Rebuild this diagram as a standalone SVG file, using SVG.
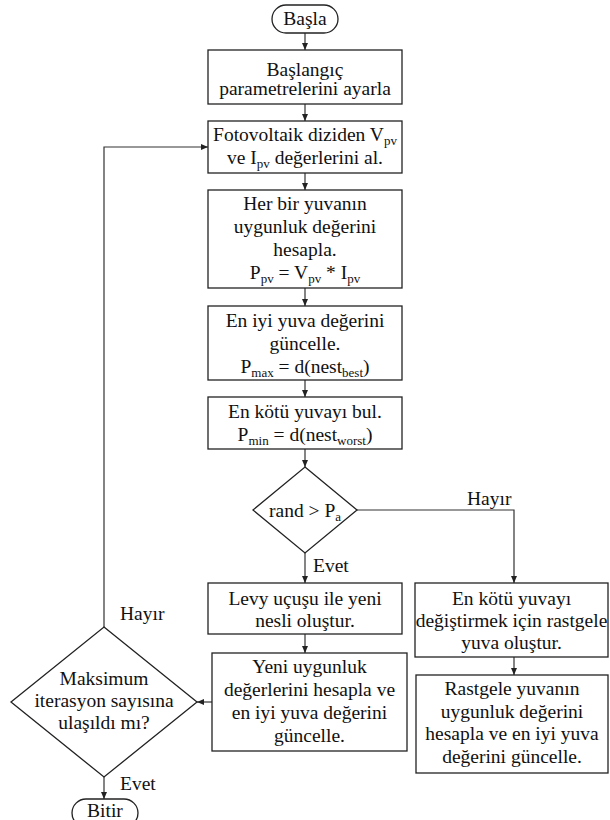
<svg xmlns="http://www.w3.org/2000/svg" width="610" height="820" viewBox="0 0 610 820">
<style>
text{font-family:"Liberation Serif","Times New Roman",serif}
.box{fill:#fff;stroke:#222;stroke-width:1.3}
.t{font-size:19.5px;fill:#111;text-anchor:middle}
.l{font-size:19.5px;fill:#111}
.sub{font-size:13px}
.c{fill:none;stroke:#333;stroke-width:1.2}
</style>
<defs>
<marker id="ah" markerUnits="userSpaceOnUse" markerWidth="8" markerHeight="6" refX="7" refY="3" orient="auto">
<path d="M0,0 L7,3 L0,6 z" fill="#222"/>
</marker>
</defs>
<rect width="610" height="820" fill="#fff"/>
<g id="connectors">
<line class="c" x1="305" y1="33" x2="305" y2="50" marker-end="url(#ah)"/>
<line class="c" x1="305" y1="104" x2="305" y2="121" marker-end="url(#ah)"/>
<line class="c" x1="305" y1="173" x2="305" y2="190" marker-end="url(#ah)"/>
<line class="c" x1="305" y1="288" x2="305" y2="306" marker-end="url(#ah)"/>
<line class="c" x1="305" y1="380" x2="305" y2="397" marker-end="url(#ah)"/>
<line class="c" x1="305" y1="449" x2="305" y2="467" marker-end="url(#ah)"/>
<line class="c" x1="305" y1="553" x2="305" y2="583" marker-end="url(#ah)"/>
<polyline class="c" points="357,510 514,510 514,583" marker-end="url(#ah)"/>
<line class="c" x1="305" y1="634" x2="305" y2="653" marker-end="url(#ah)"/>
<line class="c" x1="514" y1="657" x2="514" y2="675" marker-end="url(#ah)"/>
<line class="c" x1="212" y1="702" x2="197" y2="702" marker-end="url(#ah)"/>
<polyline class="c" points="104,627 104,147 208,147" marker-end="url(#ah)"/>
<line class="c" x1="104" y1="777" x2="104" y2="799" marker-end="url(#ah)"/>
<text class="l" x="467" y="505">Hayır</text>
<text class="l" x="313" y="572">Evet</text>
<text class="l" x="120" y="620">Hayır</text>
<text class="l" x="120" y="790">Evet</text>
</g>
<g id="start">
<rect class="box" x="272" y="5" width="66" height="28" rx="14"/>
<text class="t" x="305" y="25">Başla</text>
</g>
<g id="init">
<rect class="box" x="208" y="50" width="194" height="54"/>
<text class="t" x="305" y="76">Başlangıç</text>
<text class="t" x="305" y="95">parametrelerini ayarla</text>
</g>
<g id="read">
<rect class="box" x="208" y="121" width="194" height="52"/>
<text class="t" x="305" y="141">Fotovoltaik diziden V<tspan class="sub" dy="4">pv</tspan></text>
<text class="t" x="305" y="164">ve I<tspan class="sub" dy="4">pv</tspan><tspan dy="-4"> değerlerini al.</tspan></text>
</g>
<g id="fitness">
<rect class="box" x="208" y="190" width="194" height="98"/>
<text class="t" x="305" y="210">Her bir yuvanın</text>
<text class="t" x="305" y="233">uygunluk değerini</text>
<text class="t" x="305" y="256">hesapla.</text>
<text class="t" x="305" y="279">P<tspan class="sub" dy="4">pv</tspan><tspan dy="-4"> = V</tspan><tspan class="sub" dy="4">pv</tspan><tspan dy="-4"> * I</tspan><tspan class="sub" dy="4">pv</tspan></text>
</g>
<g id="best">
<rect class="box" x="208" y="306" width="194" height="74"/>
<text class="t" x="305" y="327">En iyi yuva değerini</text>
<text class="t" x="305" y="350">güncelle.</text>
<text class="t" x="305" y="373">P<tspan class="sub" dy="4">max</tspan><tspan dy="-4"> = d(nest</tspan><tspan class="sub" dy="4">best</tspan><tspan dy="-4">)</tspan></text>
</g>
<g id="worst">
<rect class="box" x="208" y="397" width="194" height="52"/>
<text class="t" x="305" y="418">En kötü yuvayı bul.</text>
<text class="t" x="305" y="441">P<tspan class="sub" dy="4">min</tspan><tspan dy="-4"> = d(nest</tspan><tspan class="sub" dy="4">worst</tspan><tspan dy="-4">)</tspan></text>
</g>
<g id="decision1">
<polygon class="box" points="305,467 357,510 305,553 253,510"/>
<text class="t" x="305" y="517">rand &gt; P<tspan class="sub" dy="4">a</tspan></text>
</g>
<g id="levy">
<rect class="box" x="208" y="583" width="194" height="51"/>
<text class="t" x="305" y="605">Levy uçuşu ile yeni</text>
<text class="t" x="305" y="627">nesli oluştur.</text>
</g>
<g id="newfit">
<rect class="box" x="212" y="653" width="195" height="98"/>
<text class="t" x="309.5" y="673">Yeni uygunluk</text>
<text class="t" x="309.5" y="696">değerlerini hesapla ve</text>
<text class="t" x="309.5" y="719">en iyi yuva değerini</text>
<text class="t" x="309.5" y="742">güncelle.</text>
</g>
<g id="replace">
<rect class="box" x="415" y="583" width="193" height="74"/>
<text class="t" x="511.5" y="605">En kötü yuvayı</text>
<text class="t" x="511.5" y="627">değiştirmek için rastgele</text>
<text class="t" x="511.5" y="649">yuva oluştur.</text>
</g>
<g id="randfit">
<rect class="box" x="416" y="675" width="192" height="98"/>
<text class="t" x="512" y="695">Rastgele yuvanın</text>
<text class="t" x="512" y="718">uygunluk değerini</text>
<text class="t" x="512" y="740">hesapla ve en iyi yuva</text>
<text class="t" x="512" y="763">değerini güncelle.</text>
</g>
<g id="decision2">
<polygon class="box" points="104,627 197,702 104,777 11,702"/>
<text class="t" x="104" y="685">Maksimum</text>
<text class="t" x="104" y="707">iterasyon sayısına</text>
<text class="t" x="104" y="729">ulaşıldı mı?</text>
</g>
<g id="end">
<rect class="box" x="72" y="799" width="66" height="28" rx="14"/>
<text class="t" x="105" y="817">Bitir</text>
</g>
</svg>
